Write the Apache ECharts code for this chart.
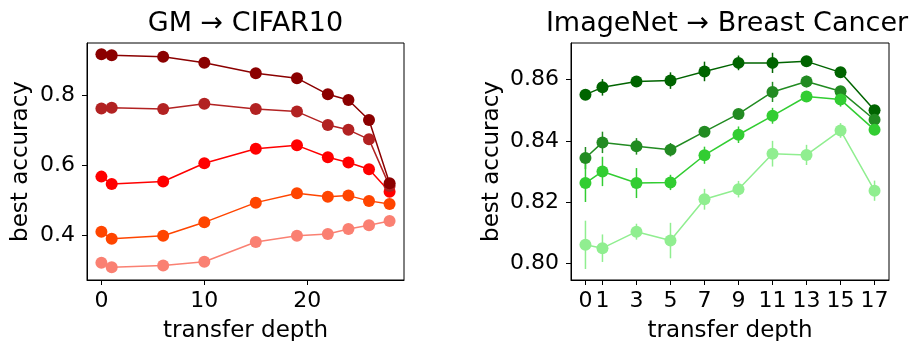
<!DOCTYPE html>
<html>
<head>
<meta charset="utf-8">
<script src="https://cdn.jsdelivr.net/npm/echarts@6/dist/echarts.min.js"></script>
<style>
  html, body { margin: 0; padding: 0; background: #fff; }
  #chart { width: 922px; height: 341px; }
</style>
</head>
<body>
<div id="chart"></div>
<script>
// GM -> CIFAR10
const gmDepth = [0, 1, 6, 10, 15, 19, 22, 24, 26, 28];
const gmSalmon = [0.323, 0.310, 0.315, 0.326, 0.382, 0.400, 0.405, 0.419, 0.430, 0.442];
const gmSalmonErr = [0.004, 0.004, 0.004, 0.004, 0.004, 0.004, 0.005, 0.015, 0.012, 0.004];
const gmOrangered = [0.411, 0.391, 0.400, 0.438, 0.494, 0.521, 0.511, 0.514, 0.499, 0.490];
const gmOrangeredErr = [0.004, 0.004, 0.004, 0.004, 0.004, 0.004, 0.004, 0.004, 0.004, 0.004];
const gmRed = [0.568, 0.547, 0.554, 0.606, 0.647, 0.657, 0.623, 0.608, 0.589, 0.525];
const gmRedErr = [0.004, 0.004, 0.004, 0.004, 0.004, 0.004, 0.004, 0.004, 0.004, 0.004];
const gmFirebrick = [0.762, 0.764, 0.760, 0.775, 0.760, 0.753, 0.715, 0.701, 0.674, 0.541];
const gmFirebrickErr = [0.004, 0.004, 0.004, 0.004, 0.004, 0.004, 0.004, 0.004, 0.004, 0.004];
const gmDarkred = [0.916, 0.913, 0.909, 0.892, 0.862, 0.848, 0.802, 0.786, 0.729, 0.549];
const gmDarkredErr = [0.004, 0.004, 0.004, 0.004, 0.004, 0.004, 0.004, 0.004, 0.004, 0.004];
const gmXTicks = [0, 10, 20];
const gmYTicks = [0.4, 0.6, 0.8];

// ImageNet -> Breast Cancer
const bcDepth = [0, 1, 3, 5, 7, 9, 11, 13, 15, 17];
const bcDarkgreen = [0.8551, 0.8575, 0.8594, 0.8597, 0.8627, 0.8655, 0.8655, 0.8660, 0.8624, 0.8500];
const bcDarkgreenErr = [0.0008, 0.0027, 0.0008, 0.0027, 0.0032, 0.0024, 0.0033, 0.0015, 0.0010, 0.0010];
const bcForest = [0.8344, 0.8395, 0.8382, 0.8371, 0.8430, 0.8488, 0.8560, 0.8594, 0.8562, 0.8469];
const bcForestErr = [0.0036, 0.0035, 0.0027, 0.0022, 0.0017, 0.0010, 0.0033, 0.0019, 0.0016, 0.0010];
const bcLime = [0.8262, 0.8300, 0.8262, 0.8264, 0.8353, 0.8420, 0.8482, 0.8545, 0.8535, 0.8436];
const bcLimeErr = [0.0062, 0.0048, 0.0049, 0.0025, 0.0028, 0.0027, 0.0026, 0.0018, 0.0023, 0.0010];
const bcLight = [0.8060, 0.8049, 0.8103, 0.8074, 0.8209, 0.8242, 0.8358, 0.8354, 0.8434, 0.8237];
const bcLightErr = [0.0079, 0.0045, 0.0026, 0.0058, 0.0034, 0.0027, 0.0042, 0.0033, 0.0024, 0.0033];
const bcXTicks = [0, 1, 3, 5, 7, 9, 11, 13, 15, 17];
const bcYTicks = [0.80, 0.82, 0.84, 0.86];

const FONT = 'DejaVu Sans';

const chart = echarts.init(document.getElementById('chart'));

function errSeries(idx, xs, ys, errs, color) {
    return {
        type: 'custom',
        xAxisIndex: idx,
        yAxisIndex: idx,
        silent: true,
        data: xs.map((x, i) => [x, ys[i] - errs[i], ys[i] + errs[i]]),
        renderItem: (params, api) => {
            const p1 = api.coord([api.value(0), api.value(1)]);
            const p2 = api.coord([api.value(0), api.value(2)]);
            return {
                type: 'line',
                shape: { x1: p1[0], y1: p1[1], x2: p2[0], y2: p2[1] },
                style: { stroke: color, lineWidth: 1.5 }
            };
        }
    };
}

function lineSeries(idx, xs, ys, color) {
    return {
        type: 'line',
        xAxisIndex: idx,
        yAxisIndex: idx,
        data: xs.map((x, i) => [x, ys[i]]),
        symbol: 'circle',
        symbolSize: 12,
        showSymbol: true,
        lineStyle: { color: color, width: 1.5 },
        itemStyle: { color: color },
        emphasis: { disabled: true }
    };
}

function xAxisOf(idx, min, max, ticks) {
    return {
        type: 'value',
        gridIndex: idx,
        min: min,
        max: max,
        name: 'transfer depth',
        nameLocation: 'middle',
        nameGap: 40,
        nameTextStyle: { fontFamily: FONT, fontSize: 23, color: '#000' },
        axisLine: { show: true, onZero: false, lineStyle: { color: '#000', width: 1 } },
        axisTick: { show: true, length: 5, customValues: ticks, lineStyle: { color: '#000' } },
        axisLabel: { customValues: ticks, margin: 10, fontFamily: FONT, fontSize: 22, color: '#000' },
        splitLine: { show: false }
    };
}

function yAxisOf(idx, min, max, ticks, digits, gap) {
    return {
        type: 'value',
        gridIndex: idx,
        min: min,
        max: max,
        name: 'best accuracy',
        nameLocation: 'middle',
        nameGap: gap,
        nameTextStyle: { fontFamily: FONT, fontSize: 23, color: '#000' },
        axisLine: { show: true, onZero: false, lineStyle: { color: '#000', width: 1 } },
        axisTick: { show: true, length: 5, customValues: ticks, lineStyle: { color: '#000' } },
        axisLabel: {
            customValues: ticks, margin: 12, fontFamily: FONT, fontSize: 22, color: '#000',
            formatter: v => v.toFixed(digits)
        },
        splitLine: { show: false }
    };
}

const option = {
    backgroundColor: '#fff',
    animation: false,
    grid: [
        { left: 87, right: 518, top: 43, bottom: 61, show: true, borderColor: '#000', borderWidth: 1,
          containLabel: false, outerBoundsMode: 'none' },
        { left: 571, right: 33, top: 43, bottom: 61, show: true, borderColor: '#000', borderWidth: 1,
          containLabel: false, outerBoundsMode: 'none' }
    ],
    graphic: [
        {
            type: 'text', x: 245.5, y: 24,
            style: { text: 'GM → CIFAR10', fontFamily: FONT, fontSize: 27, fill: '#000',
                     textAlign: 'center', textVerticalAlign: 'middle' }
        },
        {
            type: 'text', x: 727, y: 24,
            style: { text: 'ImageNet → Breast Cancer', fontFamily: FONT, fontSize: 27, fill: '#000',
                     textAlign: 'center', textVerticalAlign: 'middle' }
        }
    ],
    xAxis: [
        xAxisOf(0, -1.4, 29.4, gmXTicks),
        xAxisOf(1, -0.85, 17.85, bcXTicks)
    ],
    yAxis: [
        yAxisOf(0, 0.274, 0.948, gmYTicks, 1, 54),
        yAxisOf(1, 0.7945, 0.872, bcYTicks, 2, 67)
    ],
    series: [
        errSeries(0, gmDepth, gmSalmon, gmSalmonErr, '#FA8072'),
        lineSeries(0, gmDepth, gmSalmon, '#FA8072'),
        errSeries(0, gmDepth, gmOrangered, gmOrangeredErr, '#FF4500'),
        lineSeries(0, gmDepth, gmOrangered, '#FF4500'),
        errSeries(0, gmDepth, gmRed, gmRedErr, '#FF0000'),
        lineSeries(0, gmDepth, gmRed, '#FF0000'),
        errSeries(0, gmDepth, gmFirebrick, gmFirebrickErr, '#B22222'),
        lineSeries(0, gmDepth, gmFirebrick, '#B22222'),
        errSeries(0, gmDepth, gmDarkred, gmDarkredErr, '#8B0000'),
        lineSeries(0, gmDepth, gmDarkred, '#8B0000'),

        errSeries(1, bcDepth, bcDarkgreen, bcDarkgreenErr, '#006400'),
        lineSeries(1, bcDepth, bcDarkgreen, '#006400'),
        errSeries(1, bcDepth, bcForest, bcForestErr, '#228B22'),
        lineSeries(1, bcDepth, bcForest, '#228B22'),
        errSeries(1, bcDepth, bcLime, bcLimeErr, '#32CD32'),
        lineSeries(1, bcDepth, bcLime, '#32CD32'),
        errSeries(1, bcDepth, bcLight, bcLightErr, '#90EE90'),
        lineSeries(1, bcDepth, bcLight, '#90EE90')
    ]
};

chart.setOption(option);
</script>
</body>
</html>
